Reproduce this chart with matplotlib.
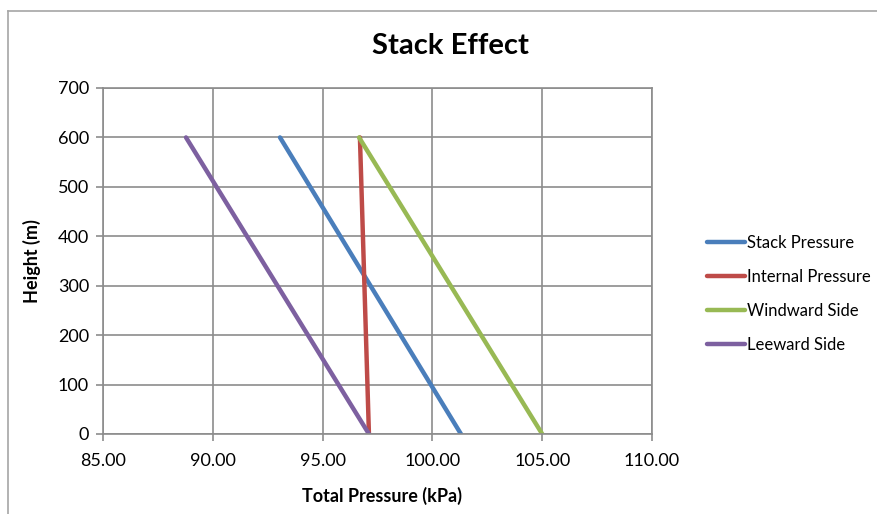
import matplotlib.pyplot as plt
from matplotlib.lines import Line2D

# heights (m) and total pressure (kPa) at ground and top of the building
heights = [0, 600]
stack_pressure = [101.30, 93.06]
internal_pressure = [97.11, 96.70]
windward_side = [105.00, 96.66]
leeward_side = [97.11, 88.78]

series = [
    ("Stack Pressure", stack_pressure, "#4a7ebb"),
    ("Internal Pressure", internal_pressure, "#be4b48"),
    ("Windward Side", windward_side, "#98b954"),
    ("Leeward Side", leeward_side, "#7d60a0"),
]

plt.rcParams["font.family"] = ["Lato", "DejaVu Sans"]

fig = plt.figure(figsize=(8.78, 5.14), dpi=100)
W, H = 878, 514
ax = fig.add_axes([103 / W, 1 - 434 / H, (652 - 103) / W, (434 - 88) / H])

for name, vals, col in series:
    ax.plot(vals, heights, color=col, lw=3.2, label=name, solid_capstyle="round")

ax.set_xlim(85, 110)
ax.set_ylim(0, 700)
ax.set_xticks([85, 90, 95, 100, 105, 110])
ax.set_xticklabels([f"{v:.2f}" for v in [85, 90, 95, 100, 105, 110]])
ax.set_yticks(range(0, 701, 100))
ax.grid(True, color="#8c8c8c", lw=1.2)
ax.set_axisbelow(True)
for s in ax.spines.values():
    s.set_color("#8c8c8c")
    s.set_linewidth(1.2)
ax.tick_params(axis="both", colors="#8c8c8c", labelcolor="black", labelsize=13,
               length=5, width=1.2)
ax.tick_params(axis="x", pad=9)
ax.tick_params(axis="y", pad=5)

ax.set_xlabel("Total Pressure (kPa)", fontsize=13, fontweight="bold")
ax.set_ylabel("Height (m)", fontsize=13, fontweight="bold")
ax.xaxis.set_label_coords((382 - 103) / (652 - 103), -(487 - 434) / (434 - 88))
ax.yaxis.set_label_coords(-(103 - 41) / (652 - 103), (434 - 261) / (434 - 88))

fig.text(450 / W, 1 - 46 / H, "Stack Effect", ha="center", va="center",
         fontsize=21, fontweight="bold")

leg = ax.legend(loc="center left", bbox_to_anchor=(692 / W, 1 - 294 / H),
                bbox_transform=fig.transFigure, frameon=False, fontsize=12,
                handlelength=2.3, handletextpad=0.12, labelspacing=1.08)

# outer chart border (top and left edges)
fig.add_artist(Line2D([8 / W, 1], [1 - 11 / H, 1 - 11 / H], color="#a6a6a6", lw=1.2))
fig.add_artist(Line2D([8 / W, 8 / W], [0, 1 - 11 / H], color="#a6a6a6", lw=1.2))

fig.savefig("out.png", dpi=100)
